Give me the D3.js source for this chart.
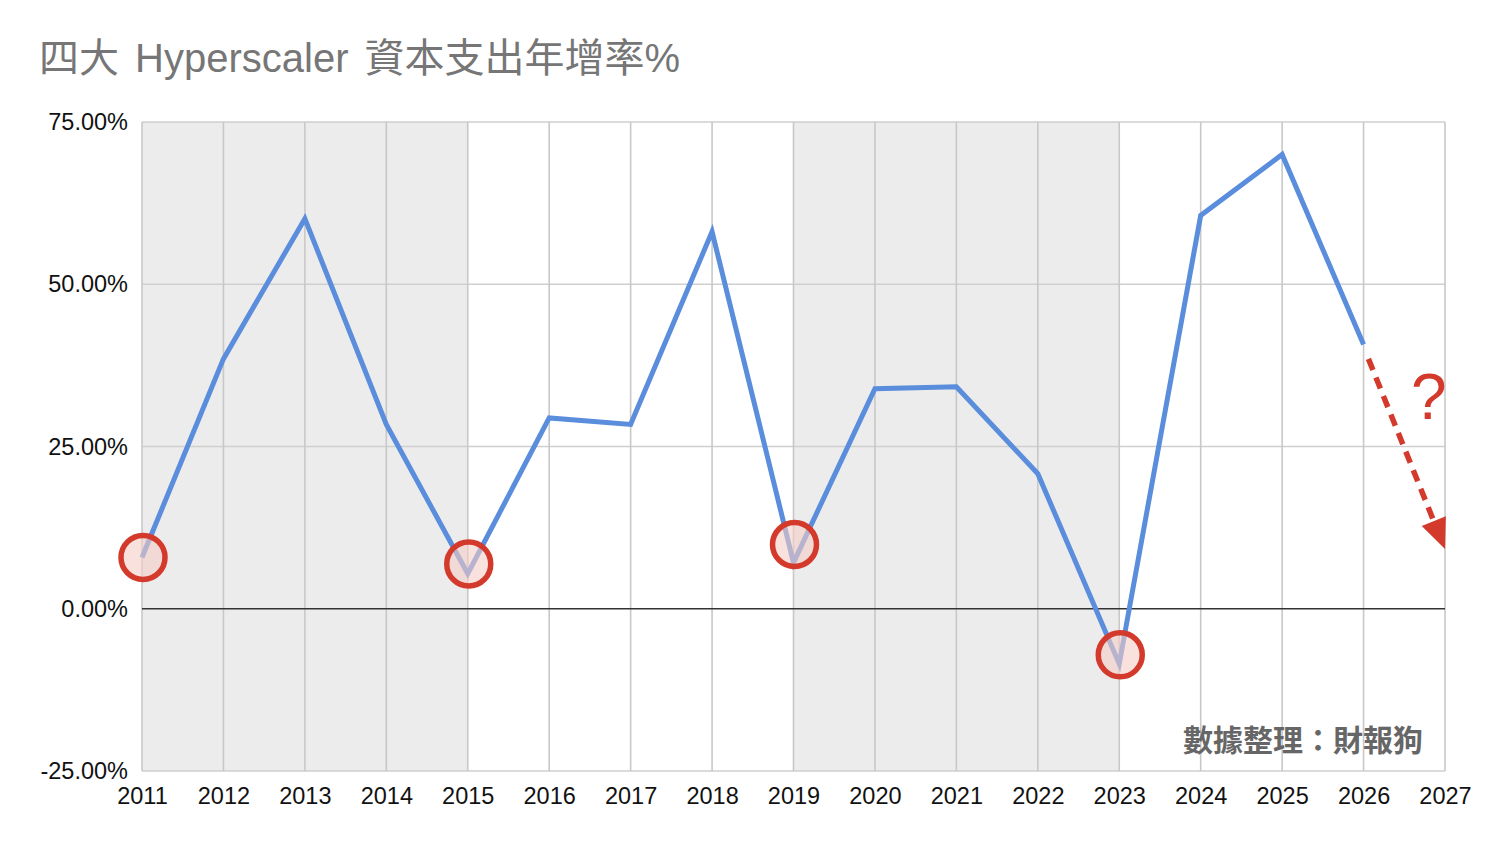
<!DOCTYPE html>
<html><head><meta charset="utf-8">
<script src="https://cdn.jsdelivr.net/npm/d3@7"></script>
<style>body{margin:0;background:#fff}svg{display:block}</style>
</head><body><svg id="c" width="1512" height="862"></svg>
<script>
const years = [2011,2012,2013,2014,2015,2016,2017,2018,2019,2020,2021,2022,2023,2024,2025,2026,2027];
const growth = [7.9,38.5,60.1,28.4,5.4,29.4,28.4,58.1,7.1,33.9,34.2,20.8,-8.5,60.6,70.0,40.7];
const yTicks = [-25,0,25,50,75];
const shadedRanges = [[2011,2015],[2019,2023]];
const circleYears = [2011,2015,2019,2023];
const circleValues = [7.9,6.9,9.9,-7.1];
const arrowFrom = [2026.06,38.5];
const arrowTo = [2027,9.2];
const title = "四大 Hyperscaler 資本支出年增率%";
const credit = "數據整理：財報狗";

const svg = d3.select("#c");
const x = d3.scaleLinear().domain([2011,2027]).range([142,1445]);
const y = d3.scaleLinear().domain([-25,75]).range([771,122]);

svg.append("text").attr("x",39).attr("y",72).attr("font-family","'Liberation Sans','Noto Sans CJK TC',sans-serif")
  .attr("font-size",40).attr("word-spacing",5).attr("fill","#767676").text(title);

// shaded bands
shadedRanges.forEach(r=>{
  svg.append("rect").attr("x",x(r[0])).attr("y",y(75)).attr("width",x(r[1])-x(r[0])).attr("height",y(-25)-y(75)).attr("fill","#ececec");
});
// horizontal grid
yTicks.filter(t=>t!==0).forEach(t=>{
  svg.append("line").attr("x1",x(2011)).attr("x2",x(2027)).attr("y1",y(t)).attr("y2",y(t)).attr("stroke","#cfcfcf").attr("stroke-width",1.5);
});
// vertical grid
years.forEach(yr=>{
  svg.append("line").attr("x1",x(yr)).attr("x2",x(yr)).attr("y1",y(75)).attr("y2",y(-25)).attr("stroke","#c8c8c8").attr("stroke-width",1.6);
});
// zero line
svg.append("line").attr("x1",x(2011)).attr("x2",x(2027)).attr("y1",y(0)).attr("y2",y(0)).attr("stroke","#333").attr("stroke-width",1.6);

// y labels
const yAxis = d3.axisLeft(y).tickValues(yTicks).tickSize(0).tickPadding(14).tickFormat(d=>d.toFixed(2)+"%");
const ga = svg.append("g").attr("transform",`translate(${x(2011)},0)`).call(yAxis);
ga.select(".domain").remove();
ga.selectAll("text").attr("font-family","'Liberation Sans',Arial,sans-serif").attr("font-size",23.5).attr("fill","#111");
// x labels
const xAxis = d3.axisBottom(x).tickValues(years).tickSize(0).tickPadding(16).tickFormat(d3.format("d"));
const gx = svg.append("g").attr("transform",`translate(0,${y(-25)})`).call(xAxis);
gx.select(".domain").remove();
gx.selectAll("text").attr("font-family","'Liberation Sans',Arial,sans-serif").attr("font-size",23.5).attr("fill","#111");

// line
const line = d3.line().x((d,i)=>x(years[i])).y(d=>y(d));
svg.append("path").datum(growth).attr("d",line).attr("fill","none").attr("stroke","#5a8ddc").attr("stroke-width",5).attr("stroke-linejoin","miter");

// circles
circleYears.forEach((yr,i)=>{
  svg.append("circle").attr("cx",x(yr)+1).attr("cy",y(circleValues[i])).attr("r",22)
    .attr("fill","rgba(245,205,198,0.6)").attr("stroke","#d33a2c").attr("stroke-width",5.5);
});

// dashed arrow
const ax1=x(arrowFrom[0]), ay1=y(arrowFrom[1]), ax2=x(arrowTo[0]), ay2=y(arrowTo[1]);
const ang = Math.atan2(ay2-ay1, ax2-ax1);
const headLen = 30, headW = 13;
const bx = ax2 - headLen*Math.cos(ang), by = ay2 - headLen*Math.sin(ang);
svg.append("line").attr("x1",ax1).attr("y1",ay1).attr("x2",bx).attr("y2",by)
  .attr("stroke","#d33a2c").attr("stroke-width",5.5).attr("stroke-dasharray","12,8");
const px = -Math.sin(ang), py = Math.cos(ang);
svg.append("path").attr("d",`M${ax2},${ay2}L${bx+px*headW},${by+py*headW}L${bx-px*headW},${by-py*headW}Z`).attr("fill","#d33a2c");
svg.append("text").attr("x",x(2026.8)).attr("y",y(29.3)).attr("text-anchor","middle")
  .attr("font-family","'Liberation Sans',Arial,sans-serif").attr("font-size",64).attr("fill","#d33a2c").text("?");

// credit
svg.append("text").attr("x",1423).attr("y",751).attr("text-anchor","end")
  .attr("font-family","'Noto Sans CJK TC',sans-serif").attr("font-weight","bold").attr("font-size",30).attr("fill","#666").text(credit);
</script></body></html>
